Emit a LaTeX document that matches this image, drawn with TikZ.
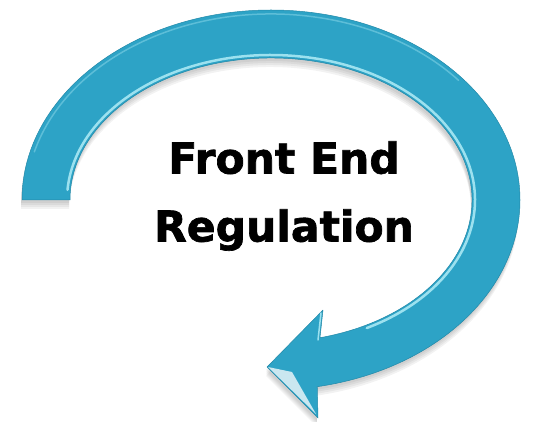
\documentclass[tikz,border=0pt]{standalone}
\usepackage{fontspec}
\newfontfamily\titlefont[BoldFeatures={FakeBold=1.6}]{DejaVu Sans}
\usetikzlibrary{calc}
\definecolor{arrowteal}{HTML}{2DA3C6}
\definecolor{arrowedge}{HTML}{2389A8}
\definecolor{arrowgloss}{HTML}{B8F1FA}
\tikzset{body/.style={fill=arrowteal,draw=arrowedge,line width=0.5pt,line join=round},
  gloss/.style={arrowgloss,line width=2.5pt,line cap=round,opacity=0.8},
  shade/.style={fill=black,opacity=0.05},
  title/.style={font=\titlefont\bfseries\fontsize{42.5}{68}\selectfont,align=center,inner sep=0pt}}
% outline of the bent arrow, pixel units, centre of the loop at (271,200)
\newcommand{\loopshape}{(22,200) arc[start angle=180,end angle=439.3,x radius=249,y radius=190]
  -- (318,418) -- (267,367) -- (323,310)
  -- ([shift={(271,200)}]75.9:201 and 142) arc[start angle=75.9,end angle=-180,x radius=201,y radius=142] -- cycle}

\begin{document}
\begin{tikzpicture}[x=1pt,y=-1pt]
\useasboundingbox (0,0) rectangle (538,422);
\foreach \d in {3,5,7,9}{
  \fill[shade,shift={(-1,\d)}] \loopshape;
}
\filldraw[body] \loopshape;
\draw[gloss] ([shift={(271,200)}]-176:204 and 145) arc[start angle=-176,end angle=62,x radius=204,y radius=145];
\draw[gloss,opacity=0.35,line width=1.5pt] ([shift={(271,200)}]-165:245 and 186) arc[start angle=-165,end angle=-40,x radius=245,y radius=186];
\fill[white,opacity=0.75] (268,367) -- (292,372) -- (316,414) -- cycle;
\draw[gloss,line width=1.5pt] (321,313) -- (318,340);
\node[title] (label) at (284,196) {Front End\\Regulation};
\end{tikzpicture}
\end{document}
